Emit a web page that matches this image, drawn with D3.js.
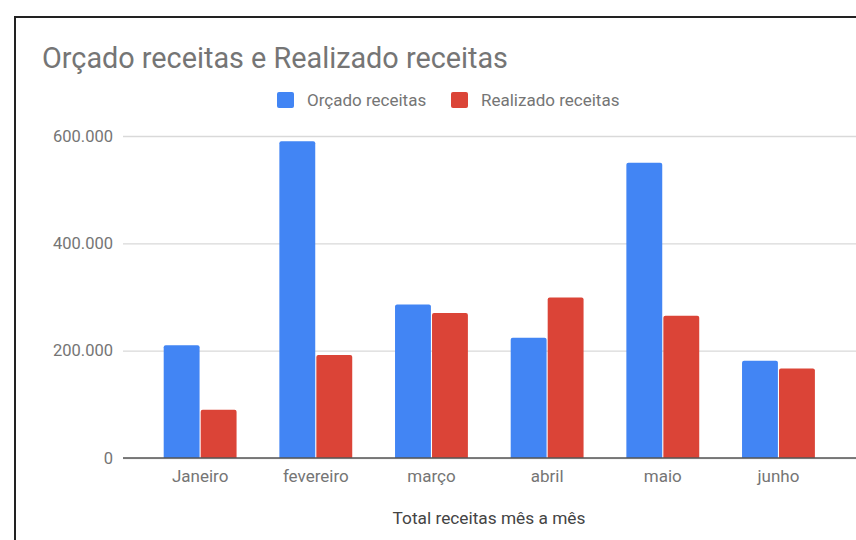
<!DOCTYPE html>
<html><head><meta charset="utf-8">
<script src="https://cdn.jsdelivr.net/npm/d3@7/dist/d3.min.js"></script>
<style>html,body{margin:0;padding:0;background:#fff;}svg{display:block;font-family:Roboto,"Noto Sans",sans-serif;}</style>
</head><body>
<script>
const months = ["Janeiro","fevereiro","março","abril","maio","junho"];
const seriesNames = ["Orçado receitas","Realizado receitas"];
const orcado = [210000, 590000, 286000, 224000, 550000, 181000];
const realizado = [90000, 192000, 270000, 299000, 265000, 167000];
const yTicks = [0, 200000, 400000, 600000];
const colors = ["#4285f4","#db4437"];

const W = 856, H = 540;
const svg = d3.select("body").append("svg").attr("width", W).attr("height", H);
svg.append("rect").attr("width", W).attr("height", H).attr("fill", "#fff");

// frame
svg.append("path").attr("d", `M15,${H} L15,17 L${W},17`).attr("fill","none").attr("stroke","#222").attr("stroke-width",2);

const plotL = 123, plotR = W;
const y = d3.scaleLinear().domain([0, 600000]).range([458, 136]);
const x = d3.scaleBand().domain(months).range([142.3, 836.3]).paddingInner(0.37).paddingOuter(0.185);
const x1 = d3.scaleBand().domain(seriesNames).range([0, x.bandwidth()]).paddingInner(0.03);

// title
svg.append("text").attr("x", 42).attr("y", 68).attr("font-size", 28.8).attr("fill", "#757575").text("Orçado receitas e Realizado receitas");

// legend
const legend = [{n: seriesNames[0], c: colors[0], x: 277}, {n: seriesNames[1], c: colors[1], x: 451}];
legend.forEach(l => {
  svg.append("rect").attr("x", l.x).attr("y", 92).attr("width", 17).attr("height", 16).attr("rx", 2).attr("fill", l.c);
  svg.append("text").attr("x", l.x + 30).attr("y", 106).attr("font-size", 17).attr("fill", "#757575").text(l.n);
});

// gridlines
const yAxis = d3.axisLeft(y).tickValues(yTicks).tickSize(-(plotR - plotL)).tickPadding(10)
  .tickFormat(d => d3.format(",")(d).replace(/,/g, "."));
const gy = svg.append("g").attr("transform", `translate(${plotL},0)`).call(yAxis);
gy.select(".domain").remove();
gy.selectAll(".tick line").attr("stroke", "#d9d9d9").attr("stroke-width", 1.3);
gy.selectAll(".tick text").attr("font-size", 16.5).attr("fill", "#757575").attr("font-family", "Roboto, sans-serif");

// bars
const data = months.map((m, i) => ({m, vals: [orcado[i], realizado[i]]}));
const groups = svg.append("g").selectAll("g").data(data).join("g").attr("transform", d => `translate(${x(d.m)},0)`);
groups.selectAll("path").data(d => d.vals.map((v, k) => ({v, k}))).join("path")
  .attr("fill", d => colors[d.k])
  .attr("d", d => {
    const bx = x1(seriesNames[d.k]), bw = x1.bandwidth(), top = y(d.v), bot = y(0), r = 2;
    return `M${bx},${bot} L${bx},${top + r} Q${bx},${top} ${bx + r},${top} L${bx + bw - r},${top} Q${bx + bw},${top} ${bx + bw},${top + r} L${bx + bw},${bot} Z`;
  });

// x axis baseline and labels
const xAxis = d3.axisBottom(x).tickSize(0).tickPadding(12);
const gx = svg.append("g").attr("transform", `translate(0,${y(0)})`).call(xAxis);
gx.select(".domain").remove();
gx.selectAll(".tick text").attr("font-size", 17).attr("fill", "#757575").attr("font-family", "Roboto, sans-serif");
svg.append("line").attr("x1", plotL).attr("x2", plotR).attr("y1", y(0)).attr("y2", y(0)).attr("stroke", "#555").attr("stroke-width", 1.5);

// axis title
svg.append("text").attr("x", 489).attr("y", 524).attr("text-anchor", "middle").attr("font-size", 17.3).attr("fill", "#444").text("Total receitas mês a mês");
</script>
</body></html>
